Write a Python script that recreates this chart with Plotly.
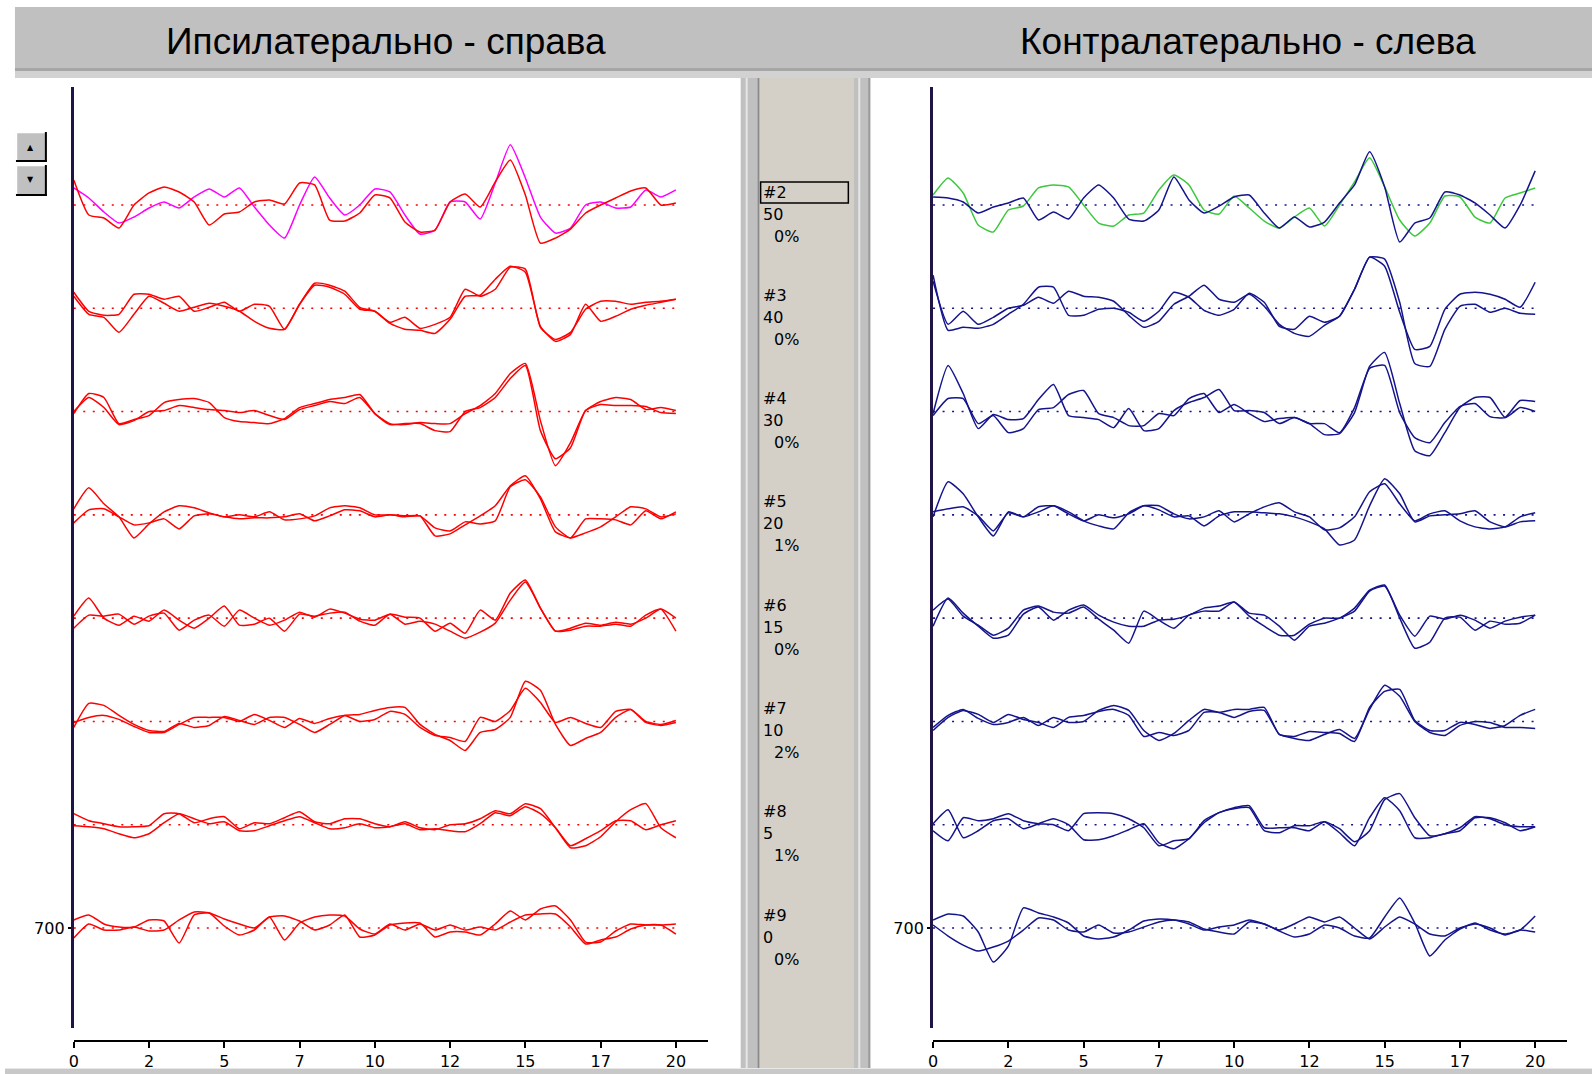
import plotly.graph_objects as go

W, H = 1592, 1074

# ---------------- data ----------------
TIME_MS = [0, 0.5, 1, 1.5, 2, 2.5, 3, 3.5, 4, 4.5, 5, 5.5, 6, 6.5, 7, 7.5, 8, 8.5, 9, 9.5,
           10, 10.5, 11, 11.5, 12, 12.5, 13, 13.5, 14, 14.5, 15, 15.5, 16, 16.5, 17, 17.5,
           18, 18.5, 19, 19.5, 20]

ROW_IDS = ["#2", "#3", "#4", "#5", "#6", "#7", "#8", "#9"]
ROW_LEVELS = ["50", "40", "30", "20", "15", "10", "5", "0"]
ROW_PCTS = ["0%", "0%", "0%", "1%", "0%", "2%", "1%", "0%"]

X_TICKS = [0, 2.5, 5, 7.5, 10, 12.5, 15, 17.5, 20]
X_TICK_TEXT = ["0", "2", "5", "7", "10", "12", "15", "17", "20"]
Y_TICKS = [700]
Y_TICK_TEXT = ["700"]
BASE_LEVEL = 700
ROW_STEP = 103

TITLE_LEFT = "Ипсилатерально - справа"
TITLE_RIGHT = "Контралатерально - слева"

# Ipsilateral (left panel) traces, amplitude relative to each row's baseline
IPSI_2_RED = [25, -10, -13, -23, 0, 12, 18, 13, 3, -20, -9, -7, 3, 5, 1, 22, 20, -15, -16, -8, 10, 7, -17, -27, -25, 3, 11, -2, 23, 45, 10, -38, -33, -24, -8, 0, 7, 14, 17, 0, 2]
IPSI_2_MAGENTA = [17, 7, -7, -18, -12, -3, 3, -3, 8, 16, 8, 17, -2, -20, -33, 0, 28, 7, -10, 0, 16, 13, -10, -29, -25, 3, 3, -14, 22, 60, 27, -12, -28, -23, 0, 3, -3, -2, 15, 8, 15]
IPSI_3_A = [16, -3, -7, -6, 14, 14, 9, 12, -3, 1, 6, -3, 4, 2, -21, 4, 25, 23, 17, 1, -3, -14, -9, -20, -16, -9, 19, 12, 19, 41, 39, -19, -31, -24, -1, 7, 7, 4, 6, 7, 9]
IPSI_3_B = [12, -6, -9, -24, -6, 12, 5, -3, 1, 5, 2, -3, -13, -20, -21, 4, 23, 21, 14, -1, -3, -15, -21, -22, -25, -11, 12, 13, 29, 42, 36, -18, -33, -26, 4, -13, -8, -1, 3, 6, 9]
IPSI_4_A = [-2, 18, 14, -12, -8, -4, 9, 12, 13, 9, -6, -10, -11, -12, -7, 4, 8, 12, 14, 17, -2, -12, -13, -11, -12, -12, -2, 6, 18, 38, 48, -9, -54, -31, 1, 10, 14, 12, 2, 4, 1]
IPSI_4_B = [0, 14, 4, -13, -9, 0, 1, 6, 4, 2, 1, -1, 1, -4, -8, 2, 6, 10, 8, 14, -2, -13, -12, -12, -19, -20, 0, 4, 14, 33, 46, -19, -47, -36, 1, 7, 6, 6, 5, -1, -2]
IPSI_5_A = [6, 27, 11, -2, -23, -9, 3, 9, 7, 2, -2, 0, -2, 3, -5, -4, -1, 7, 9, 7, 0, 0, -1, -1, -21, -19, -10, -1, 9, 29, 39, 16, -17, -23, -18, -12, -2, 8, 6, -2, 1]
IPSI_5_B = [-8, 5, 6, -2, -10, -8, -4, -14, -1, 1, -2, -4, -3, -3, -2, 1, -6, -1, 5, 4, -2, 0, -2, -1, -13, -16, -7, -9, -6, 28, 35, 18, -12, -23, -4, -4, -5, -10, 4, -4, 3]
IPSI_6_A = [2, 20, 0, -7, 2, -3, 8, -2, -10, 0, 12, -7, -6, 0, -13, 4, 2, 5, 6, -3, -7, 4, -6, -3, -6, -13, -20, -14, -5, 18, 36, 10, -13, -10, -5, -7, -4, -6, 0, 9, 0]
IPSI_6_B = [-10, 3, 2, 4, -6, 2, 5, -12, -2, 3, -8, 8, 0, -7, -2, 6, 1, 9, 5, -1, -2, 4, 1, 0, -13, -5, -15, 8, -2, 25, 38, 10, -13, -12, -8, -8, -6, -8, 3, 9, -13]
IPSI_7_A = [-6, 18, 16, 6, -3, -9, -10, -2, -6, -4, 5, 1, -3, 4, 4, -3, -11, -3, 6, 7, 11, 14, 14, -3, -13, -19, -29, -11, -8, 4, 40, 31, -3, -24, -17, -11, 4, 12, 0, -3, 1]
IPSI_7_B = [-1, 4, 6, 2, -5, -11, -11, -3, 4, 4, 4, 0, 7, 1, -6, 3, -2, 3, 6, 0, 2, 10, 7, -6, -14, -16, -20, 4, 0, 11, 33, 19, -1, 4, -2, -6, 10, 12, -1, -4, -1]
IPSI_8_A = [11, 4, 1, -2, -2, -1, 11, 11, 2, 6, 8, -4, 2, 1, 7, 13, 3, 1, 6, 6, 1, -2, 3, -3, -5, 0, 1, 6, 14, 11, 21, 16, -3, -23, -21, -12, 3, 15, 21, -3, -13]
IPSI_8_B = [-1, -2, -4, -9, -13, -9, 2, 11, 6, 1, 3, -6, -6, -1, 4, 8, 2, -4, -3, 1, -3, -2, 1, -5, -4, -6, -7, 1, 12, 9, 18, 11, -3, -21, -14, -6, 4, 4, -5, 0, 4]
IPSI_9_A = [8, 13, 4, 1, 1, 8, 7, -15, 13, 15, 9, 4, 0, 11, 12, 7, -2, 3, 13, -9, -7, 3, 5, 5, -9, -4, -4, -7, 4, 17, 8, 19, 22, 8, -14, -14, -3, 4, 3, 3, 4]
IPSI_9_B = [-10, 4, -2, -2, 1, -3, -2, 8, 16, 15, 2, -7, -2, 11, -12, 5, 11, 13, 12, -1, -6, 4, -2, 4, -2, 3, -2, 1, -2, 6, 13, 14, 14, 1, -16, -12, -9, -1, 3, 3, -6]

# Contralateral (right panel) traces
CONTRA_2_NAVY = [8, 7, 3, -8, -2, 2, 7, -15, -7, -14, 7, 20, 7, -14, -16, -5, 28, 5, -8, -1, 8, 10, -8, -23, -12, -22, -17, 2, 20, 53, 18, -37, -18, -13, 13, 10, 2, -10, -23, 0, 34]
CONTRA_2_GREEN = [10, 27, 12, -20, -27, -5, -1, 17, 20, 18, 0, -18, -21, -10, -8, 15, 30, 20, -5, -9, 9, -3, -16, -23, -12, -3, -21, 0, 23, 47, 18, -15, -31, -18, 9, 8, -12, -18, 7, 12, 17]
CONTRA_3_A = [33, -22, -19, -20, -16, -6, 4, 21, 21, -7, -7, -1, 0, -4, -13, -3, 16, 11, -2, -7, -1, 15, 6, -18, -21, -8, -14, -8, 19, 51, 42, -4, -41, -38, -1, 14, 16, 14, 9, 1, 26]
CONTRA_3_B = [27, -16, -3, -16, -9, 0, 3, 11, 5, 17, 12, 11, 7, -7, -19, -13, 4, 12, 23, 9, 6, 14, 2, -16, -25, -28, -17, -8, 19, 51, 49, 6, -55, -58, -21, 2, 4, -4, 0, -5, -6]
CONTRA_4_A = [-2, 46, 18, -17, -3, -8, -7, 12, 27, -4, -6, -8, -16, 3, -19, -17, 1, 9, 14, 22, 1, 1, -1, -12, -6, -12, -12, -21, 4, 43, 46, -1, -26, -31, -11, 5, 8, -5, -6, 11, 10]
CONTRA_4_B = [-4, 13, 13, -12, -4, -21, -17, 2, 4, 17, 21, -2, -6, -14, -14, -2, -4, 13, 18, -1, 7, -2, -10, -7, -6, -12, -23, -22, -1, 45, 59, 8, -39, -44, -21, 4, 14, 14, -6, 4, 0]
CONTRA_5_A = [-2, 33, 21, -2, -21, 3, -2, 8, 9, 1, -6, 0, -3, 1, 9, 9, 1, -4, -2, 4, -7, 1, 8, 12, 3, -2, -15, -13, -2, 23, 31, 11, -6, 1, 4, -6, -12, -14, -12, -2, 2]
CONTRA_5_B = [3, 6, 8, -1, -16, 2, -2, 3, 9, 3, -6, -11, -14, 2, 9, 5, -2, -1, -11, -1, 3, 3, 2, 1, -2, -7, -14, -30, -25, 9, 36, 21, -7, -1, 0, 1, 4, -7, -12, -7, -6]
CONTRA_6_A = [8, 19, 2, -7, -17, -10, 8, 12, 6, 5, 11, -1, -12, -25, 7, -2, -10, 3, 7, 7, 16, 5, 3, -8, -22, -8, -5, 0, 7, 27, 32, 3, -18, 2, -1, 3, -2, -10, -3, 1, 3]
CONTRA_6_B = [-8, 20, 5, -8, -20, -17, 4, 11, -2, 8, 13, 3, -4, -8, -8, -2, -1, 3, 10, 12, 16, 2, -8, -17, -17, -6, 0, 0, 10, 28, 33, 0, -30, -24, 0, 1, -12, -3, -6, -5, 3]
CONTRA_7_A = [-6, 6, 12, 3, -3, -1, 4, -4, 4, -1, 0, 11, 16, 11, -9, -19, -12, 1, 12, 9, 12, 12, 14, -13, -15, -10, -11, -12, -20, 14, 30, 32, 1, -9, -9, -1, -3, -7, -4, 6, 12]
CONTRA_7_B = [-9, 4, 11, 7, -1, 7, 2, -1, -6, 4, 6, 10, 12, 6, -15, -11, -14, -9, 9, 9, 4, 10, 11, -13, -17, -19, -13, -8, -17, 12, 36, 25, 0, -11, -14, -4, 0, -1, -6, -6, -7]
CONTRA_8_A = [1, 15, -13, -6, 4, 6, -4, 1, 6, 0, -15, -15, -11, -5, 1, -18, -24, -14, 2, 12, 16, 17, -6, -8, -1, -1, 3, -8, -21, 7, 27, 14, -13, -13, -9, -6, 7, 7, 2, -6, -2]
CONTRA_8_B = [-6, -16, 7, 4, 6, 11, 4, 1, 0, -6, 11, 12, 11, 6, -3, -21, -16, -14, 4, 12, 17, 19, -3, -3, -3, -6, 3, -4, -17, -6, 25, 31, 7, -11, -9, -3, 8, 6, 0, -2, -2]
CONTRA_9_A = [8, 14, 12, -4, -34, -18, 20, 15, 11, 5, -8, -11, -9, -2, 7, 9, 8, 4, -2, 1, 3, 8, 4, -2, 4, 11, 6, 11, 0, -11, 1, 11, 4, -6, -8, 0, 4, 0, -7, -2, -4]
CONTRA_9_B = [3, -8, -17, -23, -19, -13, -2, 10, 8, -2, -4, 3, -5, -4, 1, 6, 8, 6, -1, -4, -6, 6, 4, -3, -9, -6, 3, 0, -8, -10, 11, 30, 5, -28, -12, -1, 5, -2, -6, -2, 12]

IPSI_ROWS = [(IPSI_2_MAGENTA, IPSI_2_RED), (IPSI_3_A, IPSI_3_B), (IPSI_4_A, IPSI_4_B),
             (IPSI_5_A, IPSI_5_B), (IPSI_6_A, IPSI_6_B), (IPSI_7_A, IPSI_7_B),
             (IPSI_8_A, IPSI_8_B), (IPSI_9_A, IPSI_9_B)]
CONTRA_ROWS = [(CONTRA_2_GREEN, CONTRA_2_NAVY), (CONTRA_3_A, CONTRA_3_B), (CONTRA_4_A, CONTRA_4_B),
               (CONTRA_5_A, CONTRA_5_B), (CONTRA_6_A, CONTRA_6_B), (CONTRA_7_A, CONTRA_7_B),
               (CONTRA_8_A, CONTRA_8_B), (CONTRA_9_A, CONTRA_9_B)]

RED = "#ff0000"
MAGENTA = "#ff00ff"
NAVY = "#14148c"
GREEN = "#3cc83c"

# ---------------- figure ----------------
def fx(x):
    return x / W


def fy(y):
    return 1 - y / H


fig = go.Figure()


def add_panel(rows, xa, ya, main_color, first_color):
    for i, (tr1, tr2) in enumerate(rows):
        base = BASE_LEVEL + (len(rows) - 1 - i) * ROW_STEP
        fig.add_trace(go.Scatter(
            x=[TIME_MS[0], TIME_MS[-1]], y=[base, base], mode="lines",
            line=dict(color=main_color, width=1.6, dash="2px,7.5px"),
            xaxis=xa, yaxis=ya, hoverinfo="skip", showlegend=False))
        c1 = first_color if i == 0 else main_color
        fig.add_trace(go.Scatter(
            x=TIME_MS, y=[base + v for v in tr1], mode="lines",
            line=dict(color=c1, width=1.5, shape="spline", smoothing=0.5),
            xaxis=xa, yaxis=ya, showlegend=False))
        fig.add_trace(go.Scatter(
            x=TIME_MS, y=[base + v for v in tr2], mode="lines",
            line=dict(color=main_color, width=1.5, shape="spline", smoothing=0.5),
            xaxis=xa, yaxis=ya, showlegend=False))


add_panel(IPSI_ROWS, "x", "y", RED, MAGENTA)
add_panel(CONTRA_ROWS, "x2", "y2", NAVY, GREEN)

px_per_unit = 723.0 / (7 * ROW_STEP)
y_top = BASE_LEVEL + (928 - 87) / px_per_unit
y_bot = BASE_LEVEL - (1028 - 928) / px_per_unit
x_max = (705 - 69) / 30.2

tickfont = dict(family="DejaVu Sans", size=16, color="#000000")
xcommon = dict(range=[0, x_max], anchor="free", position=fy(1041), showline=True,
               linecolor="#000000", linewidth=2, ticks="outside", ticklen=6, tickwidth=1.5,
               tickcolor="#000000", tickvals=X_TICKS, ticktext=X_TICK_TEXT, tickfont=tickfont,
               showgrid=False, zeroline=False, fixedrange=True)
ycommon = dict(range=[y_bot, y_top], domain=[fy(1028), fy(87)], showline=True,
               linecolor="#201446", linewidth=3, ticks="outside", ticklen=3, tickwidth=1.5,
               tickcolor="#000000", tickvals=Y_TICKS, ticktext=Y_TICK_TEXT, tickfont=tickfont,
               showgrid=False, zeroline=False, fixedrange=True)

fig.update_layout(
    width=W, height=H, margin=dict(l=0, r=0, t=0, b=0),
    paper_bgcolor="#ffffff", plot_bgcolor="rgba(0,0,0,0)", showlegend=False,
    xaxis=dict(domain=[fx(69), fx(705)], **xcommon),
    xaxis2=dict(domain=[fx(931), fx(1567)], **xcommon),
    yaxis=dict(anchor="x", **ycommon),
    yaxis2=dict(anchor="x2", **ycommon),
)

shapes = []


def rect(x0, y0, x1, y1, fill, layer="below", line_color=None, line_width=0):
    shapes.append(dict(type="rect", xref="paper", yref="paper",
                       x0=fx(x0), x1=fx(x1), y0=fy(y1), y1=fy(y0),
                       fillcolor=fill, layer=layer,
                       line=dict(width=line_width, color=line_color or fill)))


def hline(x0, x1, y, color, width, layer="above"):
    shapes.append(dict(type="line", xref="paper", yref="paper", x0=fx(x0), x1=fx(x1),
                       y0=fy(y), y1=fy(y), layer=layer, line=dict(color=color, width=width)))


def vline(x, y0, y1, color, width, layer="above"):
    shapes.append(dict(type="line", xref="paper", yref="paper", x0=fx(x), x1=fx(x),
                       y0=fy(y0), y1=fy(y1), layer=layer, line=dict(color=color, width=width)))


# header band
rect(10, 7, W, 68, "#c0c0c0")
rect(10, 68, W, 71, "#a6a6a6")
rect(10, 71, W, 78, "#d2d2d2")
# separators and middle panel
rect(738, 78, 757, 1068, "#c0c0c0")
rect(743, 78, 745, 1068, "#e6e6e6")
rect(755, 78, 757, 1068, "#8a8a8a")
rect(757, 78, 851, 1068, "#d4d0c8")
rect(851, 78, 868, 1068, "#c0c0c0")
rect(856, 78, 858, 1068, "#e6e6e6")
rect(866, 78, 868, 1068, "#9a9a9a")
# bottom strip
rect(0, 1068, W, H, "#c8c8c8")
hline(0, W, 1068.5, "#e8e8e8", 1, layer="below")

# selected-row box in middle panel
rect(758, 182, 846, 203, "rgba(0,0,0,0)", layer="above", line_color="#000000", line_width=1.5)

# scroll buttons
for (by0, by1) in [(132, 162), (165, 196)]:
    rect(11, by0, 42, by1, "#c0c0c0", layer="above")
    hline(11, 42, by0 + 0.5, "#ffffff", 1.5)
    vline(11.5, by0, by1, "#ffffff", 1.5)
    hline(11, 42, by1 - 1, "#000000", 2)
    vline(41, by0, by1, "#000000", 2)

fig.update_layout(shapes=shapes)

annotations = []
annotations.append(dict(text=TITLE_LEFT, x=fx(382), y=fy(41), xref="paper", yref="paper",
                        showarrow=False, xanchor="center", yanchor="middle",
                        font=dict(family="Liberation Sans", size=37, color="#000000")))
annotations.append(dict(text=TITLE_RIGHT, x=fx(1247), y=fy(41), xref="paper", yref="paper",
                        showarrow=False, xanchor="center", yanchor="middle",
                        font=dict(family="Liberation Sans", size=37, color="#000000")))

lab_font = dict(family="DejaVu Sans", size=16, color="#000000")
for i in range(len(ROW_IDS)):
    y0 = 192 + 103.3 * i
    annotations.append(dict(text=ROW_IDS[i], x=fx(758), y=fy(y0), xref="paper", yref="paper",
                            showarrow=False, xanchor="left", yanchor="middle", font=lab_font))
    annotations.append(dict(text=ROW_LEVELS[i], x=fx(758), y=fy(y0 + 22), xref="paper", yref="paper",
                            showarrow=False, xanchor="left", yanchor="middle", font=lab_font))
    annotations.append(dict(text=ROW_PCTS[i], x=fx(769), y=fy(y0 + 44), xref="paper", yref="paper",
                            showarrow=False, xanchor="left", yanchor="middle", font=lab_font))

annotations.append(dict(text="▲", x=fx(26), y=fy(147), xref="paper", yref="paper", showarrow=False,
                        xanchor="center", yanchor="middle",
                        font=dict(family="DejaVu Sans", size=8, color="#000000")))
annotations.append(dict(text="▼", x=fx(26), y=fy(180), xref="paper", yref="paper", showarrow=False,
                        xanchor="center", yanchor="middle",
                        font=dict(family="DejaVu Sans", size=8, color="#000000")))

fig.update_layout(annotations=annotations)

fig.write_html(
    "out.html",
    config={"displayModeBar": False},
    post_script="document.body.style.margin='0';document.body.style.padding='0';"
                "document.documentElement.style.overflow='hidden';",
)
